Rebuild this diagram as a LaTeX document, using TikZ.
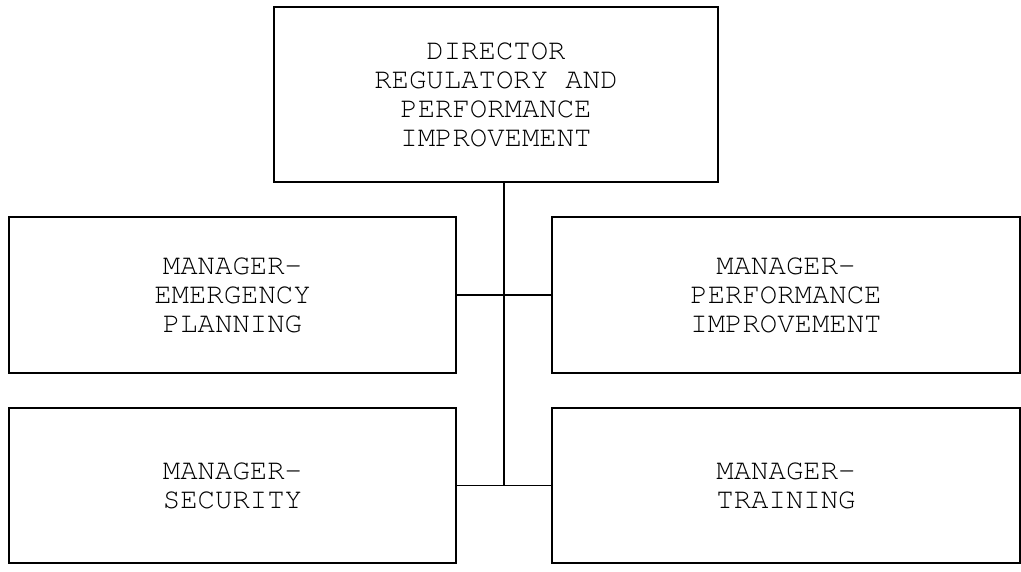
\documentclass[tikz,border=0pt]{standalone}
\usepackage[T1]{fontenc}
\usepackage{courier}
\usepackage{tikz}
\usetikzlibrary{positioning}
\tikzstyle{chart} = [x = 0.025cm, y = -0.025cm]
\tikzstyle{boxStyle} = [draw, rectangle, line width = 1.6pt, align = center, inner sep = 0pt,
  font = \ttfamily\fontsize{20.6}{20.6}\selectfont, text = black]
\tikzstyle{linkLine} = [line width = 1.4pt]
\newcommand{\chartBox}[5]{\node [boxStyle, minimum width = #3 * 0.025cm, minimum height = #4 * 0.025cm] (#1) at #2 {#5};}

\begin{document}
\begin{tikzpicture}[chart]
  \useasboundingbox (0,0) rectangle (1021,572);

  \chartBox{dir}{(496,94.5)}{444}{175}{DIRECTOR\\REGULATORY AND\\PERFORMANCE\\IMPROVEMENT}
  \chartBox{mgrEmergency}{(232.5,295)}{447}{156}{MANAGER-\\EMERGENCY\\PLANNING}
  \chartBox{mgrPerformance}{(786,295)}{468}{156}{MANAGER-\\PERFORMANCE\\IMPROVEMENT}
  \chartBox{mgrSecurity}{(232.5,485.5)}{447}{155}{MANAGER-\\SECURITY}
  \chartBox{mgrTraining}{(786,485.5)}{468}{155}{MANAGER-\\TRAINING}

  \coordinate (spineBottom) at (504,485.5);
  \draw [linkLine] (dir.south -| spineBottom) -- (spineBottom);
  \draw [linkLine] (mgrEmergency.east) -- (mgrPerformance.west);
  \draw [linkLine] (mgrSecurity.east) -- (mgrTraining.west);
\end{tikzpicture}
\end{document}
